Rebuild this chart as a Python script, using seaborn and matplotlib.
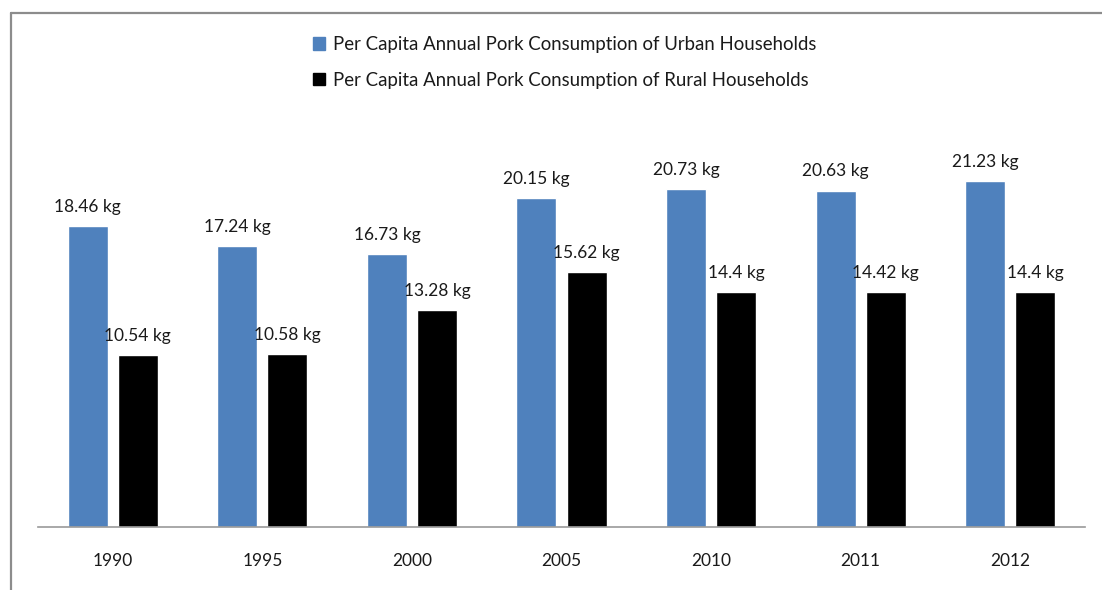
import pandas as pd
import matplotlib
matplotlib.use("Agg")
import matplotlib.pyplot as plt
from matplotlib.lines import Line2D
import seaborn as sns

# data
years = ["1990", "1995", "2000", "2005", "2010", "2011", "2012"]
urban = [18.46, 17.24, 16.73, 20.15, 20.73, 20.63, 21.23]
rural = [10.54, 10.58, 13.28, 15.62, 14.4, 14.42, 14.4]
series = ["Per Capita Annual Pork Consumption of Urban Households",
          "Per Capita Annual Pork Consumption of Rural Households"]
colors = ["#4F81BD", "#000000"]

df = pd.DataFrame({
    "year": years * 2,
    "value": urban + rural,
    "series": [series[0]] * len(years) + [series[1]] * len(years),
})

sns.set_style("white")
plt.rcParams["font.family"] = ["Lato", "DejaVu Sans"]

fig = plt.figure(figsize=(11.02, 5.9), dpi=100)
ax = fig.add_axes([38 / 1102, 63 / 590, 1047 / 1102, 367 / 590])

sns.barplot(data=df, x="year", y="value", hue="series", palette=colors,
            saturation=1, width=0.67, gap=0.2, ax=ax, legend=True)

ax.set_ylim(0, 22.5)
ax.set_xlim(-0.5, len(years) - 0.5)
ax.set_xlabel("")
ax.set_ylabel("")
ax.set_yticks([])
for s in ["top", "right", "left"]:
    ax.spines[s].set_visible(False)
ax.spines["bottom"].set_color("#999999")
ax.spines["bottom"].set_linewidth(1.2)
ax.tick_params(axis="x", length=0, pad=19, labelsize=12.5, labelcolor="#1a1a1a")

for cont, vals in zip(ax.containers, [urban, rural]):
    ax.bar_label(cont, labels=[f"{v:g} kg" for v in vals], padding=8,
                 fontsize=12.5, color="#1a1a1a", clip_on=False)

handles = [plt.Rectangle((0, 0), 1, 1, color=c) for c in colors]
ax.get_legend().remove()
fig.legend(handles, series, loc="upper left", bbox_to_anchor=(313 / 1102, 1 - 36 / 590),
           frameon=False, fontsize=13.4, handlelength=0.65, handleheight=0.65,
           handletextpad=0.45, labelspacing=1.0, borderpad=0, borderaxespad=0,
           labelcolor="#1a1a1a")

# chart frame (top and left edges visible in the crop)
fig.add_artist(Line2D([11 / 1102, 1.0], [1 - 13 / 590, 1 - 13 / 590],
                      transform=fig.transFigure, color="#8c8c8c", lw=1.6))
fig.add_artist(Line2D([11 / 1102, 11 / 1102], [0, 1 - 13 / 590],
                      transform=fig.transFigure, color="#8c8c8c", lw=1.6))

fig.savefig("out.png", dpi=100, facecolor="white")
